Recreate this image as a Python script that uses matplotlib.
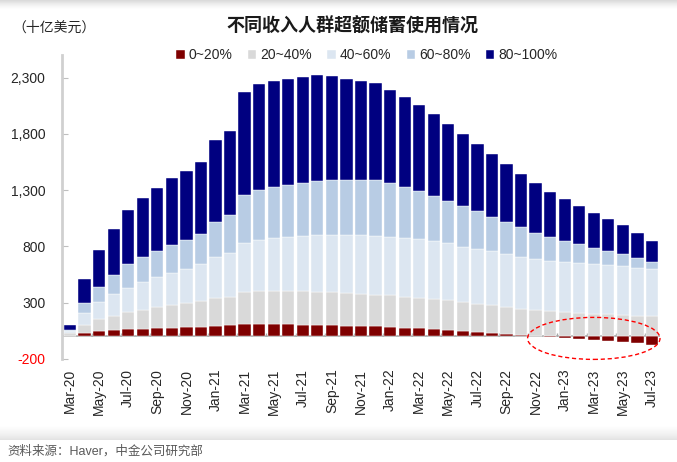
import numpy as np
import pandas as pd
import matplotlib
matplotlib.use('Agg')
import matplotlib.pyplot as plt
from matplotlib.patches import Ellipse

plt.rcParams['font.family'] = ['Liberation Sans', 'Noto Sans CJK SC', 'DejaVu Sans']

# --- data (billion USD), Mar-20 .. Jul-23 ---
months = pd.date_range('2020-03-01', periods=41, freq='MS').strftime('%b-%y').tolist()

q1 = [3, 30, 45, 54, 63, 69, 75, 78, 81, 87, 96, 99, 107, 107, 107, 107, 104, 101, 99, 96,
      90, 90, 84, 78, 72, 63, 54, 45, 36, 30, 21, 10, 2, -3, -12, -23, -32, -41, -52, -61, -73]
q2 = [25, 69, 107, 130, 151, 169, 183, 198, 216, 228, 242, 254, 285, 293, 296, 296, 296, 297, 293, 290,
      287, 281, 281, 275, 272, 269, 267, 261, 255, 246, 237, 237, 230, 223, 217, 208, 202, 196, 190, 184, 178]
q3 = [25, 109, 154, 190, 219, 245, 267, 287, 302, 325, 367, 385, 438, 453, 468, 477, 492, 506, 512, 515,
      521, 521, 518, 521, 518, 512, 506, 491, 485, 480, 474, 462, 453, 450, 444, 441, 441, 435, 435, 427, 421]
q4 = [7, 86, 136, 175, 207, 222, 233, 246, 257, 270, 311, 337, 426, 447, 456, 462, 473, 479, 488, 491,
      494, 500, 479, 456, 426, 403, 379, 358, 335, 308, 284, 260, 236, 210, 186, 169, 142, 125, 107, 85, 62]
q5 = [40, 219, 329, 402, 482, 524, 563, 595, 616, 639, 728, 746, 914, 942, 944, 941, 942, 939, 921, 897,
      879, 858, 826, 796, 764, 725, 683, 642, 601, 559, 518, 473, 439, 400, 373, 340, 314, 284, 255, 225, 183]

series = [q1, q2, q3, q4, q5]
labels = ['0~20%', '20~40%', '40~60%', '60~80%', '80~100%']
colors = ['#7F0000', '#D9D9D9', '#DCE6F1', '#B8CCE4', '#000080']

yticks = [-200, 300, 800, 1300, 1800, 2300]

fig = plt.figure(figsize=(6.77, 4.62), dpi=100)
ax = fig.add_axes([62 / 677, 1 - 359 / 462, 598 / 677, 304 / 462])

x = np.arange(len(months))
bottom = np.zeros(len(months))
for vals, lab, col in zip(series, labels, colors):
    v = np.array(vals, dtype=float)
    if lab == '0~20%':
        ax.bar(x, v, 0.84, color=col, label=lab, edgecolor='white', linewidth=0.3, zorder=2)
        bottom = np.clip(v, 0, None)
    else:
        ax.bar(x, v, 0.84, bottom=bottom, color=col, label=lab, edgecolor='white', linewidth=0.3, zorder=2)
        bottom = bottom + v

ax.set_xlim(-0.55, len(months) - 0.45)
ax.set_ylim(-200, 2500)

# zero line and small boundary ticks
ax.axhline(0, color='#A6A6A6', lw=1.2, zorder=1)
ax.vlines(x[::2][1:] - 0.5, 0, 35, color='#A6A6A6', lw=1, zorder=1)

for s in ['top', 'right', 'bottom']:
    ax.spines[s].set_visible(False)
ax.spines['left'].set_color('#D0D0D0')
ax.spines['left'].set_linewidth(2)

ax.set_yticks(yticks)
ax.set_yticklabels([f'{v:,}' for v in yticks], fontsize=10)
ax.tick_params(axis='y', direction='in', length=4, width=0.8, color='#BFBFBF', pad=12)
for t, v in zip(ax.get_yticklabels(), yticks):
    t.set_color('red' if v < 0 else '#262626')

ax.set_xticks(x[::2])
ax.set_xticklabels(months[::2], rotation=90, fontsize=10, color='#262626')
ax.tick_params(axis='x', length=0, pad=7)

# highlighted negative area
ell = Ellipse((36.0, -17), 9.1, 373, fill=False, edgecolor='red', linestyle=(0, (3, 2)),
              linewidth=1, clip_on=False, zorder=5)
ax.add_patch(ell)

leg = fig.legend(loc='center', bbox_to_anchor=(367 / 677, 1 - 55 / 462), ncol=5, frameon=False,
                 fontsize=10, handlelength=0.6, handleheight=0.6, handletextpad=0.3,
                 columnspacing=1.1, labelcolor='#262626')

fig.text(352 / 677, 1 - 27 / 462, '不同收入人群超额储蓄使用情况', ha='center', va='center',
         fontsize=13, fontweight='bold', color='#1a1a1a')
fig.text(12 / 677, 1 - 28 / 462, '（十亿美元）', ha='left', va='center', fontsize=10, color='#262626')
fig.text(7 / 677, 1 - 451 / 462, '资料来源：Haver，中金公司研究部', ha='left', va='center',
         fontsize=9, color='#595959')

# soft panel shadows
grad = np.linspace(0, 1, 50).reshape(-1, 1)
top = fig.add_axes([0, 1 - 9 / 462, 1, 9 / 462])
top.imshow(grad, aspect='auto', cmap='Greys_r', vmin=-3, vmax=1, extent=(0, 1, 0, 1))
top.axis('off')
bot = fig.add_axes([0, 1 - 440 / 462, 1, 14 / 462])
bot.imshow(grad[::-1], aspect='auto', cmap='Greys_r', vmin=-4, vmax=1, extent=(0, 1, 0, 1))
bot.axis('off')

plt.savefig('out.png', dpi=100)
